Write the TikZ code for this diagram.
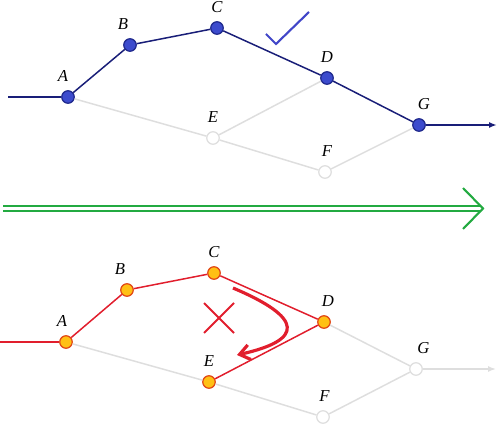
\documentclass[tikz,border=0pt]{standalone}
\usepackage{fontspec}
\setmainfont{Liberation Serif}
\usetikzlibrary{arrows.meta}
\definecolor{navyline}{RGB}{25,30,120}
\definecolor{bluenode}{RGB}{60,75,205}
\definecolor{bluerim}{RGB}{30,40,140}
\definecolor{fadegray}{RGB}{222,222,222}
\definecolor{redline}{RGB}{225,30,45}
\definecolor{ambernode}{RGB}{255,192,20}
\definecolor{amberrim}{RGB}{225,70,20}
\definecolor{tickblue}{RGB}{65,70,200}
\definecolor{arrowgreen}{RGB}{35,170,65}

\begin{document}
\begin{tikzpicture}[x=0.02cm,y=-0.02cm,
		vtx/.style={circle,minimum size=0.25cm,inner sep=0pt,line width=0.7pt},
		onpath/.style={vtx,draw=bluerim,fill=bluenode},
		offpath/.style={vtx,draw=fadegray,fill=white},
		hit/.style={vtx,draw=amberrim,fill=ambernode},
		lbl/.style={font=\fontsize{9.5}{11}\selectfont\itshape,label distance=0.04cm},
		navyedge/.style={draw=navyline,line width=0.85pt},
		grayedge/.style={draw=fadegray,line width=0.85pt},
		rededge/.style={draw=redline,line width=0.85pt}]
		\useasboundingbox (0,0) rectangle (500,425);
		%%%%% START %%%%%
		% upper graph: route that works
		\node[onpath, label={[lbl,xshift=-0.1cm]above:A}] (tA) at (68,97) {};
		\node[onpath, label={[lbl,xshift=-0.14cm]above:B}] (tB) at (130,45) {};
		\node[onpath, label={[lbl]above:C}] (tC) at (217,28) {};
		\node[onpath, label={[lbl]above:D}] (tD) at (327,78) {};
		\node[offpath, label={[lbl]above:E}] (tE) at (213,138) {};
		\node[offpath, label={[lbl,xshift=0.04cm]above:F}] (tF) at (325,172) {};
		\node[onpath, label={[lbl,xshift=0.1cm]above:G}] (tG) at (419,125) {};
		\coordinate (tin) at (8,97);
		\coordinate (tout) at (497,125);
		
		\draw[grayedge] (tA) -- (tE) -- (tD);
		\draw[grayedge] (tE) -- (tF) -- (tG);
		\draw[navyedge] (tA) -- (tB) -- (tC) -- (tD) -- (tG);
		\draw[navyline, line width=1.3pt] (tin) -- (tA);
		\draw[navyline, line width=1.3pt, -{Latex[length=0.16cm,width=0.12cm]}] (tG) -- (tout);
		
		\coordinate (ck1) at (266,34);
		\coordinate (ck2) at (276,44);
		\coordinate (ck3) at (309,12);
		\draw[tickblue, line width=1.2pt] (ck1) -- (ck2) -- (ck3);
		
		% green implication arrow
		\coordinate (gl) at (3,206);
		\coordinate (gr) at (481,206);
		\coordinate (gl2) at (3,211);
		\coordinate (gr2) at (481,211);
		\coordinate (gtip) at (483,208.5);
		\draw[arrowgreen, line width=1.2pt] (gl) -- (gr);
		\draw[arrowgreen, line width=1.2pt] (gl2) -- (gr2);
		\draw[arrowgreen, line width=1.2pt] (463,188) -- (gtip) -- (463,229);
		
		% lower graph: route that fails
		\node[hit, label={[lbl,xshift=-0.08cm]above:A}] (bA) at (66,342) {};
		\node[hit, label={[lbl,xshift=-0.14cm]above:B}] (bB) at (127,290) {};
		\node[hit, label={[lbl]above:C}] (bC) at (214,273) {};
		\node[hit, label={[lbl,xshift=0.08cm]above:D}] (bD) at (324,322) {};
		\node[hit, label={[lbl]above:E}] (bE) at (209,382) {};
		\node[offpath, label={[lbl,xshift=0.03cm]above:F}] (bF) at (323,417) {};
		\node[offpath, label={[lbl,xshift=0.15cm]above:G}] (bG) at (416,369) {};
		\coordinate (bin) at (0,342);
		\coordinate (bout) at (496,369);
		
		\draw[grayedge] (bA) -- (bE) -- (bF) -- (bG) -- (bD);
		\draw[grayedge, -{Latex[length=0.16cm,width=0.12cm]}] (bG) -- (bout);
		\draw[rededge] (bA) -- (bB) -- (bC) -- (bD) -- (bE);
		\draw[redline, line width=1.3pt] (bin) -- (bA);
		
		\draw[redline, line width=1.2pt] (204,303) -- (234,333);
		\draw[redline, line width=1.2pt] (234,303) -- (204,333);
		
		\coordinate (turn1) at (233,288);
		\coordinate (turn2) at (237,355);
		\draw[redline, line width=1.8pt, -{Straight Barb[length=0.2cm,width=0.3cm]}] (turn1) .. controls (304,318) and (304,340) .. (turn2);
		%%%%% END %%%%%
\end{tikzpicture}
\end{document}
